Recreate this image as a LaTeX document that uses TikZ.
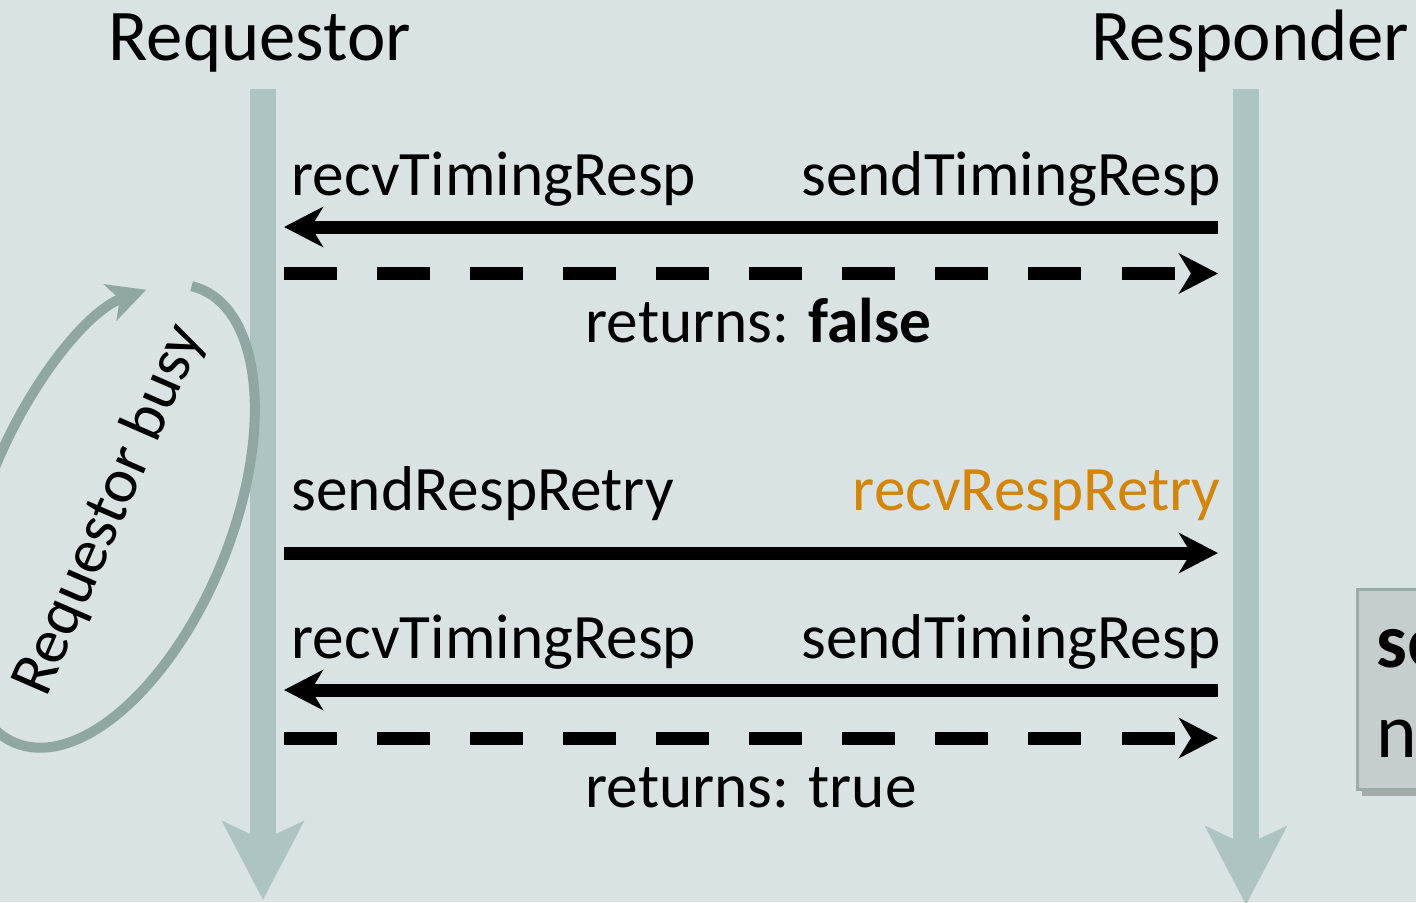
\documentclass[tikz,border=0pt]{standalone}
\usepackage{fontspec}
\setmainfont{Carlito}
\usetikzlibrary{arrows.meta,shadows}
\definecolor{bgcol}{RGB}{217,227,227}
\definecolor{lifecol}{RGB}{174,196,194}
\definecolor{loopcol}{RGB}{143,166,163}
\definecolor{retrycol}{RGB}{211,133,10}
\definecolor{boxfill}{RGB}{197,205,205}
\definecolor{boxline}{RGB}{152,172,170}
\begin{document}
\begin{tikzpicture}[x=0.01cm,y=0.01cm,
  lifeline/.style={line width=2.6mm, draw=lifecol,
    -{Stealth[length=7.8mm,width=8mm,inset=1.8mm]}},
  msg/.style={line width=1.3mm, -{Stealth[length=3.9mm,width=4mm,inset=1.2mm]}},
  retmsg/.style={msg, dash pattern=on 5.3mm off 4mm},
  busyloop/.style={line width=1mm, draw=loopcol,
    -{Stealth[length=3.8mm,width=3.8mm,inset=1mm]}},
  lbl/.style={font=\fontsize{18}{22}\selectfont, inner sep=0pt},
  head/.style={font=\fontsize{20.7}{25}\selectfont, inner sep=0pt},
  boxtxt/.style={font=\fontsize{22}{26}\selectfont, inner sep=0pt},
  infobox/.style={draw=boxline, fill=boxfill, line width=0.3mm,
    drop shadow={shadow xshift=0.4mm, shadow yshift=-0.6mm, opacity=0.45, fill=black!60}},
]
\useasboundingbox (0,0) rectangle (1416,-902);
\fill[bgcol] (0,0) rectangle (1416,-902);

% headings
\node[head, anchor=base west] (reqhead) at (108,-60) {Requestor};
\node[head, anchor=base east] (resphead) at (1410,-60) {Responder};

% lifelines
\coordinate (reqtop) at (263,-89);
\coordinate (reqbot) at (263,-900);
\coordinate (resptop) at (1246,-89);
\coordinate (respbot) at (1246,-905);
\draw[lifeline] (reqtop) -- (reqbot);
\draw[lifeline] (resptop) -- (respbot);

% message end points on the two lifelines
\coordinate (qa) at (284,-227);   \coordinate (ra) at (1218,-227);
\coordinate (qb) at (284,-273.5); \coordinate (rb) at (1218,-273.5);
\coordinate (qc) at (284,-553);   \coordinate (rc) at (1218,-553);
\coordinate (qd) at (284,-690);   \coordinate (rd) at (1218,-690);
\coordinate (qe) at (284,-738);   \coordinate (re) at (1218,-738);

\draw[msg] (ra) -- (qa);
\draw[retmsg] (qb) -- (rb);
\draw[msg] (qc) -- (rc);
\draw[msg] (rd) -- (qd);
\draw[retmsg] (qe) -- (re);

% labels
\node[lbl, anchor=base west] (recv1) at (291,-195) {recvTimingResp};
\node[lbl, anchor=base east] (send1) at (1221,-195) {sendTimingResp};
\node[lbl, anchor=base west] (ret1) at (585,-342) {returns: \textbf{false}};
\node[lbl, anchor=base west] (sretry) at (291,-510) {sendRespRetry};
\node[lbl, anchor=base east, text=retrycol] (rretry) at (1221,-510) {recvRespRetry};
\node[lbl, anchor=base west] (recv2) at (291,-658) {recvTimingResp};
\node[lbl, anchor=base east] (send2) at (1221,-658) {sendTimingResp};
\node[lbl, anchor=base west] (ret2) at (585,-807) {returns: true};

% busy loop beside the requestor
\begin{scope}[shift={(108,-516)}, rotate=67.8]
  \draw[busyloop] (4.4:2.45cm and 1.23cm)
    arc[start angle=4.4, end angle=-336, x radius=2.45cm, y radius=1.23cm];
\end{scope}
\node[lbl, rotate=66.5, anchor=base] (busy) at (125,-517) {Requestor busy};

% side note box
\node[infobox, anchor=north west, minimum width=1.2cm, minimum height=2cm] (info) at (1356,-588) {};
\node[boxtxt, anchor=base west] (infoa) at (1376,-667) {\textbf{se}};
\node[boxtxt, anchor=base west] (infob) at (1376,-757) {n};
\end{tikzpicture}
\end{document}
